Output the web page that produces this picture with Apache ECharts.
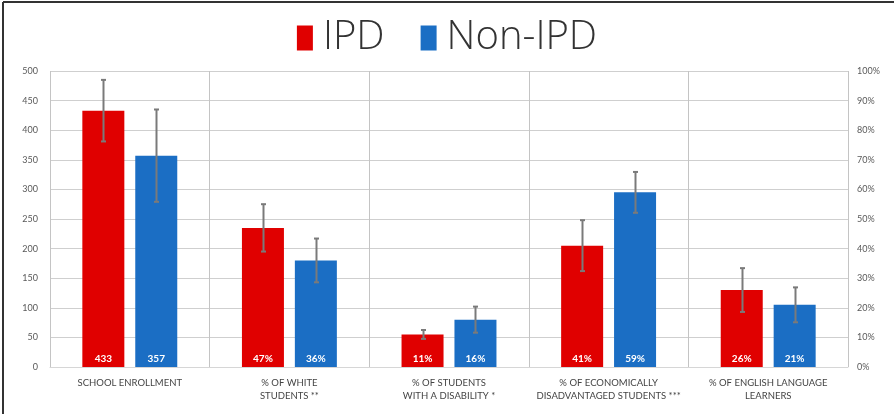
<!DOCTYPE html>
<html>
<head>
<meta charset="utf-8">
<script src="https://cdn.jsdelivr.net/npm/echarts@6/dist/echarts.min.js"></script>
<style>
html,body{margin:0;padding:0;background:#fff;}
#chart{width:894px;height:414px;}
</style>
</head>
<body>
<div id="chart"></div>
<script>
// ---- data ----
const categories = [
  'SCHOOL ENROLLMENT',
  '% OF WHITE\nSTUDENTS **',
  '% OF STUDENTS\nWITH A DISABILITY *',
  '% OF ECONOMICALLY\nDISADVANTAGED STUDENTS ***',
  '% OF ENGLISH LANGUAGE\nLEARNERS'
];
const seriesNames = ['IPD', 'Non-IPD'];
const ipdEnrollment = [433, '-', '-', '-', '-'];
const nonIpdEnrollment = [357, '-', '-', '-', '-'];
const ipdPercent = ['-', 47, 11, 41, 26];
const nonIpdPercent = ['-', 36, 16, 59, 21];
const ipdError = [52, 8, 1.5, 8.6, 7.4];      // half-width of error bar
const nonIpdError = [78, 7.4, 4.4, 6.9, 5.9];
const leftAxis = { min: 0, max: 500, interval: 50 };
const rightAxis = { min: 0, max: 100, interval: 10 };

// ---- style ----
const RED = '#e00000';
const BLUE = '#1b6ec4';
const BAR_W = 42;
const BAR_GAP = 0.26;

function errRows(vals, errs, side) {
  const rows = [];
  vals.forEach((v, i) => { if (v !== '-') rows.push([i, v, errs[i], side]); });
  return rows;
}

function renderErr(params, api) {
  const cat = api.value(0), v = api.value(1), e = api.value(2), side = api.value(3);
  const off = side * (BAR_W + BAR_W * BAR_GAP) / 2;
  const top = api.coord([cat, v + e]);
  const bot = api.coord([cat, v - e]);
  const x = Math.round(top[0] + off) + 0.5;
  const st = { stroke: '#7a7a7a', lineWidth: 2 };
  const cap = 2.5;
  return {
    type: 'group',
    children: [
      { type: 'line', shape: { x1: x, y1: top[1], x2: x, y2: bot[1] }, style: st },
      { type: 'line', shape: { x1: x - cap, y1: top[1], x2: x + cap, y2: top[1] }, style: st },
      { type: 'line', shape: { x1: x - cap, y1: bot[1], x2: x + cap, y2: bot[1] }, style: st }
    ]
  };
}

const barLabel = (suffix) => ({
  show: true, position: 'insideBottom', distance: 3,
  color: '#fff', fontWeight: 'bold', fontSize: 10, fontFamily: 'Lato',
  formatter: (p) => p.value + suffix
});

const chart = echarts.init(document.getElementById('chart'));
chart.setOption({
  backgroundColor: '#fff',
  animation: false,
  textStyle: { fontFamily: 'Lato' },
  legend: {
    data: seriesNames,
    top: 13, left: 'center',
    itemWidth: 16, itemHeight: 25, itemGap: 36,
    icon: 'rect',
    textStyle: { fontSize: 40, color: '#333', fontFamily: 'Open Sans', fontWeight: 300, padding: [0, 0, 0, 5] }
  },
  grid: { left: 50, right: 46, top: 71, bottom: 47, containLabel: false },
  xAxis: {
    type: 'category',
    data: categories,
    axisTick: { show: false },
    axisLine: { lineStyle: { color: '#d6d6d6' } },
    splitLine: { show: true, lineStyle: { color: '#c4c4c4', width: 1 } },
    axisLabel: { color: '#444', fontSize: 9.5, lineHeight: 13, margin: 9, interval: 0 }
  },
  yAxis: [
    {
      type: 'value', min: leftAxis.min, max: leftAxis.max, interval: leftAxis.interval,
      axisLine: { show: false }, axisTick: { show: false },
      splitLine: { lineStyle: { color: '#cfcfcf' } },
      axisLabel: { color: '#595959', fontSize: 9, margin: 12 }
    },
    {
      type: 'value', min: rightAxis.min, max: rightAxis.max, interval: rightAxis.interval,
      axisLine: { show: false }, axisTick: { show: false },
      splitLine: { show: false },
      axisLabel: { color: '#595959', fontSize: 9, margin: 9, formatter: '{value}%' }
    }
  ],
  series: [
    { name: 'IPD', type: 'bar', stack: 'ipd', yAxisIndex: 0, data: ipdEnrollment,
      barWidth: BAR_W, barGap: (BAR_GAP * 100) + '%', itemStyle: { color: RED }, label: barLabel('') },
    { name: 'IPD', type: 'bar', stack: 'ipd', yAxisIndex: 1, data: ipdPercent,
      barWidth: BAR_W, barGap: (BAR_GAP * 100) + '%', itemStyle: { color: RED }, label: barLabel('%') },
    { name: 'Non-IPD', type: 'bar', stack: 'non', yAxisIndex: 0, data: nonIpdEnrollment,
      barWidth: BAR_W, barGap: (BAR_GAP * 100) + '%', itemStyle: { color: BLUE }, label: barLabel('') },
    { name: 'Non-IPD', type: 'bar', stack: 'non', yAxisIndex: 1, data: nonIpdPercent,
      barWidth: BAR_W, barGap: (BAR_GAP * 100) + '%', itemStyle: { color: BLUE }, label: barLabel('%') },
    { type: 'custom', yAxisIndex: 0, z: 5, renderItem: renderErr,
      data: errRows(ipdEnrollment, ipdError, -1).concat(errRows(nonIpdEnrollment, nonIpdError, 1)) },
    { type: 'custom', yAxisIndex: 1, z: 5, renderItem: renderErr,
      data: errRows(ipdPercent, ipdError, -1).concat(errRows(nonIpdPercent, nonIpdError, 1)) }
  ],
  graphic: [
    { type: 'line', shape: { x1: 3, y1: 2, x2: 3, y2: 414 }, style: { stroke: '#333', lineWidth: 2 } },
    { type: 'line', shape: { x1: 3, y1: 2, x2: 894, y2: 2 }, style: { stroke: '#333', lineWidth: 2 } }
  ]
});
</script>
</body>
</html>
